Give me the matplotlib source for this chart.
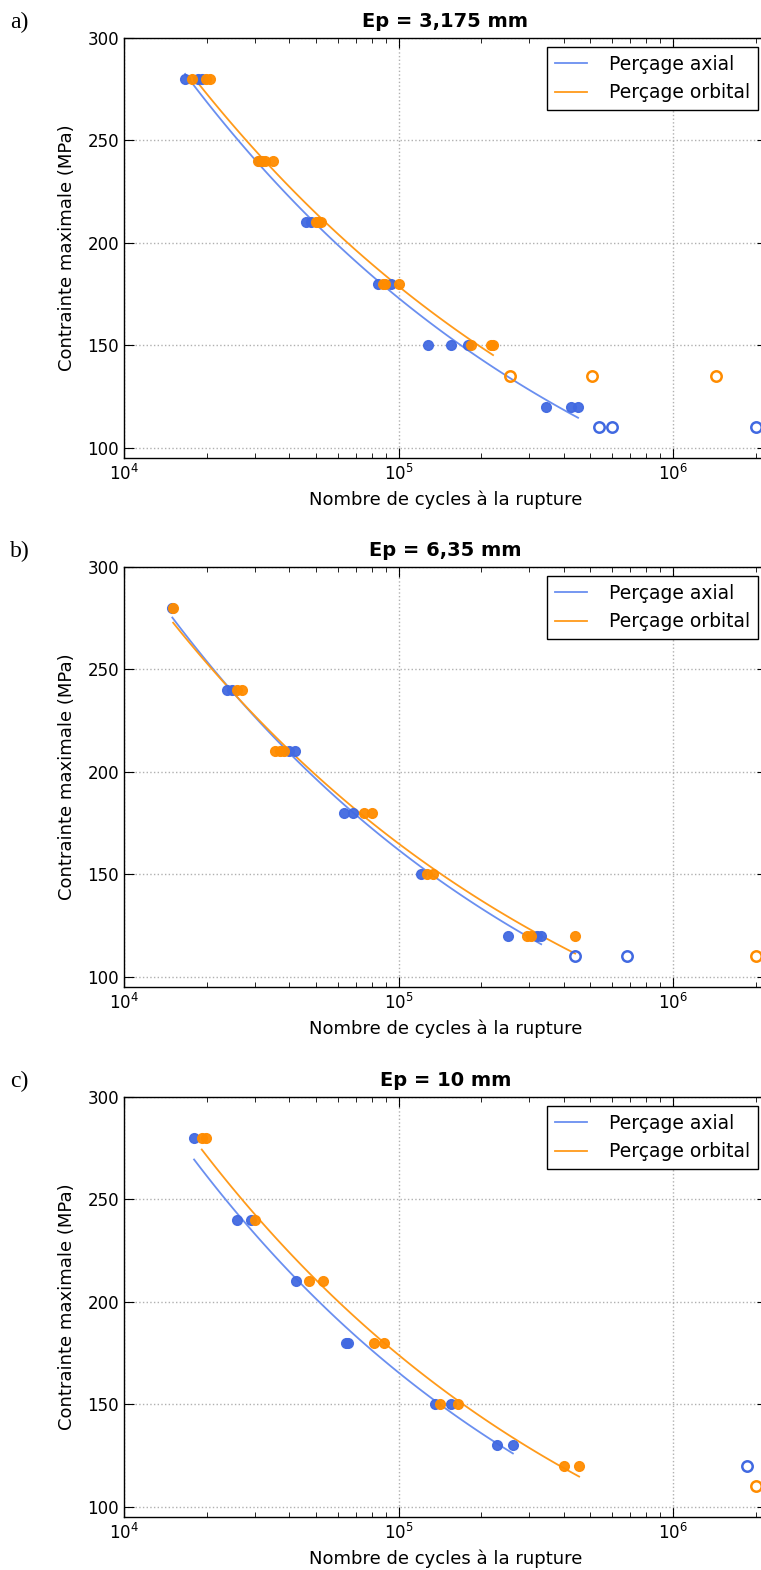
import numpy as np
import matplotlib
matplotlib.use('Agg')
import matplotlib.pyplot as plt
from matplotlib.ticker import LogLocator, NullFormatter

plt.rcParams.update({
	'font.family': 'DejaVu Sans',
	'font.size': 12,
	'xtick.direction': 'in',
	'ytick.direction': 'in',
	'xtick.top': True,
	'ytick.right': True,
	'xtick.major.size': 7,
	'xtick.minor.size': 3.5,
	'ytick.major.size': 7,
	'axes.linewidth': 1.0,
})

titles = ['Ep = 3,175 mm', 'Ep = 6,35 mm', 'Ep = 10 mm']
panel_tags = ['a)', 'b)', 'c)']

# Ep = 3,175 mm
a_axial_N = [16700, 18600, 19300, 31000, 46000, 48000, 84100, 94000, 128000, 155000, 179000, 344000, 425000, 451000]
a_axial_S = [280, 280, 280, 240, 210, 210, 180, 180, 150, 150, 150, 120, 120, 120]
a_axial_runout_N = [537000, 600000, 2000000]
a_axial_runout_S = [110, 110, 110]
a_orb_N = [17700, 19900, 20500, 30800, 31800, 32700, 34900, 50000, 51000, 52200, 87500, 89300, 100000, 184000, 217000, 221000]
a_orb_S = [280, 280, 280, 240, 240, 240, 240, 210, 210, 210, 180, 180, 180, 150, 150, 150]
a_orb_runout_N = [255000, 507000, 1440000]
a_orb_runout_S = [135, 135, 135]

# Ep = 6,35 mm
b_axial_N = [15000, 23700, 24700, 39900, 42000, 63200, 68200, 121000, 251000, 320000, 331000]
b_axial_S = [280, 240, 240, 210, 210, 180, 180, 150, 120, 120, 120]
b_axial_runout_N = [440000, 680000]
b_axial_runout_S = [110, 110]
b_orb_N = [15100, 25800, 26900, 35500, 37000, 38300, 74800, 80000, 127000, 134000, 294000, 304000, 440000]
b_orb_S = [280, 240, 240, 210, 210, 210, 180, 180, 150, 150, 120, 120, 120]
b_orb_runout_N = [2000000]
b_orb_runout_S = [110]

# Ep = 10 mm
c_axial_N = [18000, 25800, 29000, 42400, 64300, 65500, 136000, 155000, 229000, 261000]
c_axial_S = [280, 240, 240, 210, 180, 180, 150, 150, 130, 130]
c_axial_runout_N = [1860000]
c_axial_runout_S = [120]
c_orb_N = [19200, 19900, 30000, 47200, 53100, 81400, 88600, 142000, 165000, 401000, 455000]
c_orb_S = [280, 280, 240, 210, 210, 180, 180, 150, 150, 120, 120]
c_orb_runout_N = [2000000]
c_orb_runout_S = [110]

panels = [
	(a_axial_N, a_axial_S, a_axial_runout_N, a_axial_runout_S, a_orb_N, a_orb_S, a_orb_runout_N, a_orb_runout_S),
	(b_axial_N, b_axial_S, b_axial_runout_N, b_axial_runout_S, b_orb_N, b_orb_S, b_orb_runout_N, b_orb_runout_S),
	(c_axial_N, c_axial_S, c_axial_runout_N, c_axial_runout_S, c_orb_N, c_orb_S, c_orb_runout_N, c_orb_runout_S),
]

blue_pt = '#4169E1'
orange_pt = '#FF8C00'
blue_ln = '#6A8FF0'
orange_ln = '#FF9A1A'

def basquin(N, S):
	# power law fit S = A * N^b
	N = np.asarray(N, float)
	S = np.asarray(S, float)
	b, logA = np.polyfit(np.log10(N), np.log10(S), 1)
	xs = np.geomspace(N.min(), N.max(), 100)
	return xs, 10 ** logA * xs ** b

fig = plt.figure(figsize=(7.61, 15.70), dpi=100)
W, H = 761.0, 1570.0
tops = [38, 567, 1097]

for i, (aN, aS, arN, arS, oN, oS, orN, orS) in enumerate(panels):
	top = tops[i]
	ax = fig.add_axes([124 / W, 1 - (top + 420) / H, 643 / W, 420 / H])

	xs, ys = basquin(aN, aS)
	l1, = ax.plot(xs, ys, color=blue_ln, lw=1.3, zorder=2)
	xs, ys = basquin(oN, oS)
	l2, = ax.plot(xs, ys, color=orange_ln, lw=1.3, zorder=2)

	ax.plot(aN, aS, 'o', color=blue_pt, ms=7, mec=blue_pt, alpha=0.95, zorder=3, clip_on=False)
	ax.plot(arN, arS, 'o', mfc='none', mec=blue_pt, mew=1.8, ms=7.5, zorder=3, clip_on=False)
	ax.plot(oN, oS, 'o', color=orange_pt, ms=7, mec=orange_pt, alpha=0.95, zorder=4, clip_on=False)
	ax.plot(orN, orS, 'o', mfc='none', mec=orange_pt, mew=1.8, ms=7.5, zorder=4, clip_on=False)

	ax.set_xscale('log')
	ax.set_xlim(1e4, 2.2e6)
	ax.set_ylim(95, 300)
	ax.set_yticks([100, 150, 200, 250, 300])
	ax.xaxis.set_minor_locator(LogLocator(base=10, subs=np.arange(2, 10)))
	ax.xaxis.set_minor_formatter(NullFormatter())
	ax.tick_params(axis='x', which='major', pad=4)
	ax.tick_params(axis='y', which='minor', left=False, right=False)
	ax.grid(True, which='major', color='#b0b0b0', linestyle=':', linewidth=1.0)

	ax.set_xlabel('Nombre de cycles à la rupture', fontsize=13, labelpad=5)
	ax.set_ylabel('Contrainte maximale (MPa)', fontsize=13, labelpad=8)
	ax.set_title(titles[i], fontsize=14, fontweight='bold', pad=8)

	leg = ax.legend([l1, l2], ['Perçage axial', 'Perçage orbital'], loc='upper right',
		fontsize=13.5, fancybox=False, framealpha=1, edgecolor='black',
		handlelength=1.7, handletextpad=1.2, borderaxespad=0.5)
	leg.get_frame().set_linewidth(1.0)

	fig.text(10 / W, 1 - (top - 16) / H, panel_tags[i], family='Liberation Serif',
		fontsize=17, va='center', ha='left')

fig.savefig('out.png', dpi=100, facecolor='white')
